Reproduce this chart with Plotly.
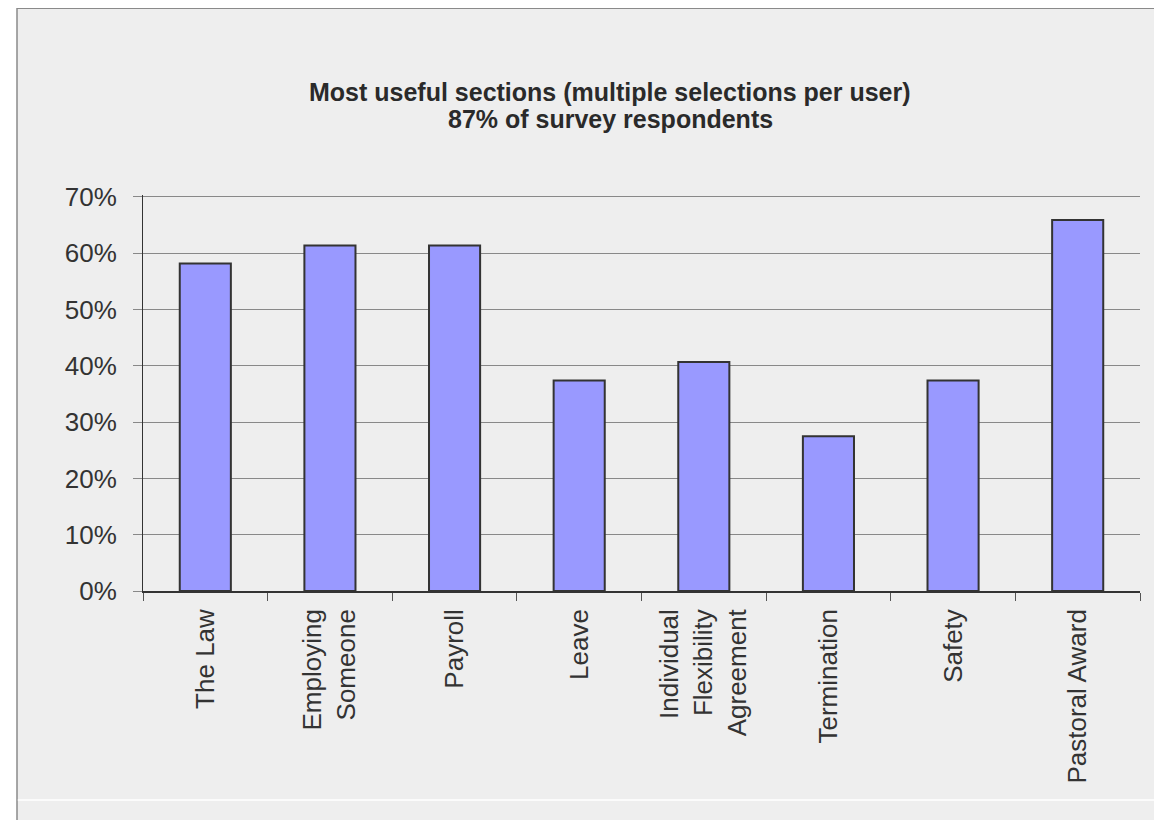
import plotly.graph_objects as go

categories = ["The Law", "Employing<br>Someone", "Payroll", "Leave",
              "Individual<br>Flexibility<br>Agreement", "Termination", "Safety", "Pastoral Award"]
values = [0.582, 0.614, 0.614, 0.374, 0.407, 0.275, 0.374, 0.659]
y_ticks = [0, 0.1, 0.2, 0.3, 0.4, 0.5, 0.6, 0.7]
y_tick_labels = ["0%", "10%", "20%", "30%", "40%", "50%", "60%", "70%"]
title_lines = ["Most useful sections (multiple selections per user)", "87% of survey respondents"]

W, H = 1162, 820
# plot area in figure pixels (page is offset 8px by the body margin)
YMAX = 0.7035
B = 583
PLOT_H = 394 * YMAX / 0.7
L, R, T = 135, 1132, B - PLOT_H

fig = go.Figure(go.Bar(
    x=categories, y=values, width=0.41,
    marker=dict(color="#9999ff", line=dict(color="#333333", width=2)),
))

def px(x):
    return (x - L) / (R - L)

def py(y):
    return (B - y) / (B - T)

shapes = [
    dict(type="rect", xref="paper", yref="paper", x0=px(-5), x1=px(9), y0=py(-5), y1=py(830),
         fillcolor="white", line=dict(width=0), layer="above"),
    dict(type="line", xref="paper", yref="paper", x0=px(9), x1=px(9), y0=py(0), y1=py(830),
         line=dict(color="#8a8a8a", width=1.5), layer="above"),
    dict(type="line", xref="paper", yref="paper", x0=px(9), x1=px(1175), y0=py(0.2), y1=py(0.2),
         line=dict(color="#8a8a8a", width=1.5), layer="above"),
    dict(type="line", xref="paper", yref="paper", x0=px(9.8), x1=px(1175), y0=py(792), y1=py(792),
         line=dict(color="#ffffff", width=1.5), layer="above"),
]

annotations = []
for text, base in zip(title_lines, [92, 119]):
    annotations.append(dict(
        text=text, xref="paper", yref="paper",
        x=px(602), y=py(base - 8), xanchor="center", yanchor="middle",
        showarrow=False,
        font=dict(family="Liberation Sans, Arial, sans-serif", size=25, color="#2a2a2a", weight="bold"),
    ))

fig.update_layout(
    width=W, height=H,
    margin=dict(l=L, r=W - R, t=T, b=H - B, pad=0),
    paper_bgcolor="#eeeeee", plot_bgcolor="#eeeeee",
    showlegend=False,
    font=dict(family="Liberation Sans, Arial, sans-serif", color="#333333"),
    bargap=0.59,
    shapes=shapes,
    annotations=annotations,
)

fig.update_xaxes(
    type="category",
    tickangle=-90,
    tickfont=dict(size=26, color="#333333"),
    ticks="outside", ticklen=8, tickcolor="#555555",
    tickson="boundaries",
    ticklabelstandoff=6,
    showline=True, linecolor="#333333", linewidth=1.5,
    showgrid=False,
    range=[-0.5, 7.5],
)

fig.update_yaxes(
    range=[0, YMAX],
    tickvals=y_ticks, ticktext=y_tick_labels,
    tickfont=dict(size=26, color="#333333"),
    ticks="outside", ticklen=9, tickcolor="#888888",
    ticklabelstandoff=11,
    showline=True, linecolor="#333333", linewidth=1,
    showgrid=True, gridcolor="#888888", gridwidth=1,
    zeroline=False,
)

fig.write_html("out.html")
